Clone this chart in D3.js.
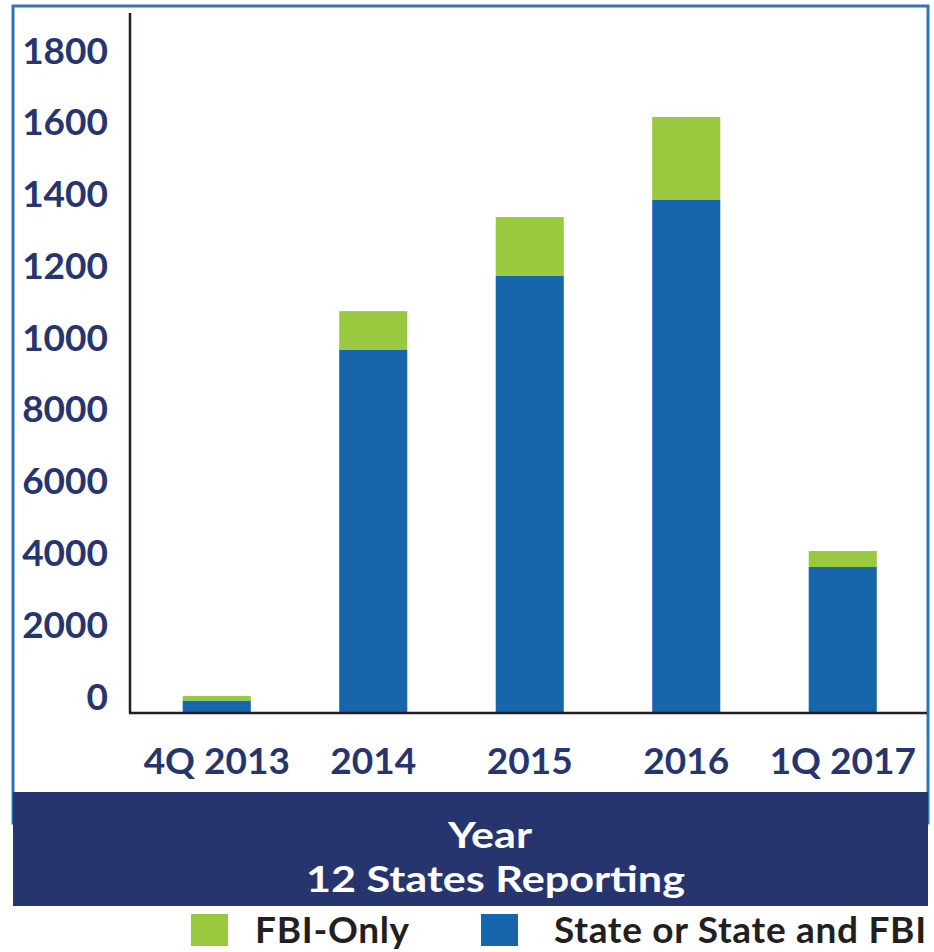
<!DOCTYPE html>
<html>
<head>
<meta charset="utf-8">
<script src="https://cdn.jsdelivr.net/npm/d3@7"></script>
<style>
  html, body { margin: 0; padding: 0; background: #fff; }
  svg { display: block; }
  text { font-family: Lato, "Open Sans", sans-serif; font-weight: 700; }
</style>
</head>
<body>
<div id="chart"></div>
<script>
// ---- data ----
const categories = ["4Q 2013", "2014", "2015", "2016", "1Q 2017"];
const stateVals = [320, 10100, 12150, 14280, 4040];
const fbiOnlyVals = [130, 1070, 1640, 2300, 445];
const tickValues = [0, 2000, 4000, 6000, 8000, 10000, 12000, 14000, 16000, 18000];
const tickLabels = ["0", "2000", "4000", "6000", "8000", "1000", "1200", "1400", "1600", "1800"];
const seriesNames = ["FBI-Only", "State or State and FBI"];
const axisTitle = ["Year", "12 States Reporting"];

// ---- layout ----
const W = 934, H = 952;
const colors = { state: "#1766AB", fbi: "#9AC83F", navy: "#26356E", frame: "#2E75B6", axis: "#231F20" };

const svg = d3.select("#chart").append("svg").attr("width", W).attr("height", H);

// outer frame
svg.append("rect").attr("x", 13).attr("y", 6).attr("width", 915).attr("height", 817)
  .attr("fill", "none").attr("stroke", colors.frame).attr("stroke-width", 3);

const y = d3.scaleLinear().domain([0, 18000]).range([712, 66]);
const x = d3.scaleBand().domain(categories).range([138.5, 921]).paddingInner(0.565).paddingOuter(0.2825);

const data = categories.map((c, i) => ({ cat: c, state: stateVals[i], fbi: fbiOnlyVals[i] }));
const stack = d3.stack().keys(["state", "fbi"])(data);

const g = svg.append("g");
g.selectAll("g.series").data(stack).join("g")
  .attr("class", "series")
  .attr("fill", d => d.key === "state" ? colors.state : colors.fbi)
  .selectAll("rect").data(d => d).join("rect")
  .attr("x", d => x(d.data.cat))
  .attr("width", x.bandwidth())
  .attr("y", d => y(d[1]))
  .attr("height", d => y(d[0]) - y(d[1]));

// y axis
const yAxis = d3.axisLeft(y).tickValues(tickValues)
  .tickFormat((d, i) => tickLabels[i]).tickSize(0).tickPadding(22);
const ya = svg.append("g").attr("transform", "translate(130,0)").call(yAxis);
ya.select(".domain").remove();
ya.selectAll("text").attr("fill", colors.navy).attr("font-size", 37)
  .attr("font-family", "Lato, 'Open Sans', sans-serif").attr("font-weight", 700)
  .attr("dy", "-0.08em");

// axis lines
svg.append("line").attr("x1", 130).attr("x2", 130).attr("y1", 13).attr("y2", 713)
  .attr("stroke", colors.axis).attr("stroke-width", 2.5);
svg.append("line").attr("x1", 129).attr("x2", 927).attr("y1", y(0) + 1).attr("y2", y(0) + 1)
  .attr("stroke", colors.axis).attr("stroke-width", 2.5);

// x axis labels
const xAxis = d3.axisBottom(x).tickSize(0).tickPadding(0);
const xa = svg.append("g").attr("transform", "translate(0,774)").call(xAxis);
xa.select(".domain").remove();
xa.selectAll("text").attr("fill", colors.navy).attr("font-size", 37)
  .attr("font-family", "Lato, 'Open Sans', sans-serif").attr("font-weight", 700)
  .attr("dy", 0).attr("y", 0);

// navy title band
svg.append("rect").attr("x", 13).attr("y", 792).attr("width", 915).attr("height", 114).attr("fill", colors.navy);
svg.append("text").attr("x", 448).attr("y", 848)
  .attr("fill", "#fff").attr("font-size", 36)
  .attr("textLength", 84).attr("lengthAdjust", "spacingAndGlyphs").text(axisTitle[0]);
svg.append("text").attr("x", 306).attr("y", 892)
  .attr("fill", "#fff").attr("font-size", 36)
  .attr("textLength", 379).attr("lengthAdjust", "spacingAndGlyphs").text(axisTitle[1]);

// legend
const legendItems = [
  { name: seriesNames[0], color: colors.fbi, x: 191, tx: 255 },
  { name: seriesNames[1], color: colors.state, x: 481, tx: 554 }
];
const lg = svg.append("g").selectAll("g").data(legendItems).join("g");
lg.append("rect").attr("x", d => d.x).attr("y", 914).attr("width", 37).attr("height", 32).attr("fill", d => d.color);
lg.append("text").attr("x", d => d.tx).attr("y", 943).attr("fill", "#231F20")
  .attr("font-size", 37).attr("letter-spacing", 0.7).text(d => d.name);
</script>
</body>
</html>
